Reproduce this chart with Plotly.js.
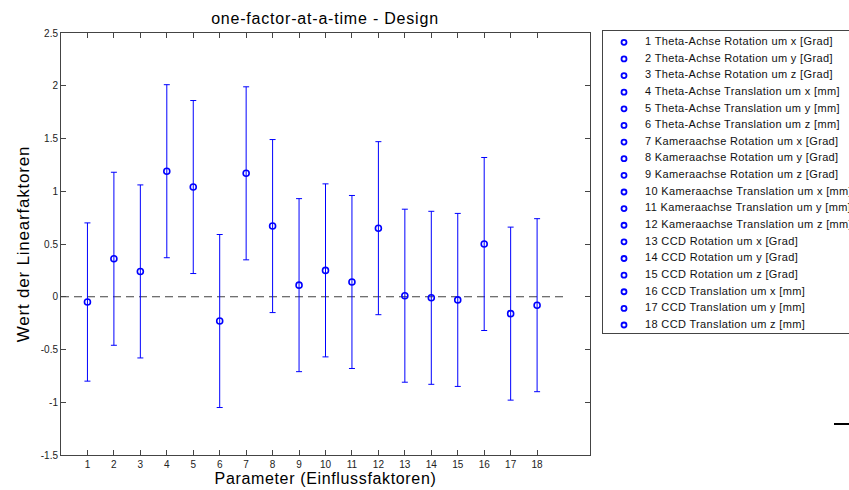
<!DOCTYPE html>
<html><head><meta charset="utf-8">
<script src="https://cdn.plot.ly/plotly-3.0.1.min.js"></script>
<style>
html,body{margin:0;padding:0;background:#fff;}
#chart{width:849px;height:490px;}
.gtitle{letter-spacing:0.8px !important;}
.xtitle{letter-spacing:0.65px !important;}
.ytitle{letter-spacing:0.8px !important;}
.textpoint text{letter-spacing:0.35px !important;}
</style>
</head><body><div id="chart"></div>
<script>
const params = [1,2,3,4,5,6,7,8,9,10,11,12,13,14,15,16,17,18];
const values = [-0.05,0.36,0.24,1.19,1.04,-0.23,1.17,0.67,0.11,0.25,0.14,0.65,0.01,-0.01,-0.03,0.50,-0.16,-0.08];
const errors = [0.75,0.82,0.82,0.82,0.82,0.82,0.82,0.82,0.82,0.82,0.82,0.82,0.82,0.82,0.82,0.82,0.82,0.82];
const legendLabels = [
  "1 Theta-Achse Rotation um x [Grad]",
  "2 Theta-Achse Rotation um y [Grad]",
  "3 Theta-Achse Rotation um z [Grad]",
  "4 Theta-Achse Translation um x [mm]",
  "5 Theta-Achse Translation um y [mm]",
  "6 Theta-Achse Translation um z [mm]",
  "7 Kameraachse Rotation um x [Grad]",
  "8 Kameraachse Rotation um y [Grad]",
  "9 Kameraachse Rotation um z [Grad]",
  "10 Kameraachse Translation um x [mm]",
  "11 Kameraachse Translation um y [mm]",
  "12 Kameraachse Translation um z [mm]",
  "13 CCD Rotation um x [Grad]",
  "14 CCD Rotation um y [Grad]",
  "15 CCD Rotation um z [Grad]",
  "16 CCD Translation um x [mm]",
  "17 CCD Translation um y [mm]",
  "18 CCD Translation um z [mm]"
];
const yTickVals = [-1.5,-1,-0.5,0,0.5,1,1.5,2,2.5];
const yTickText = ["-1.5","-1","-0.5","0","0.5","1","1.5","2","2.5"];
const refLineX = [0,19];
const refLineY = [0,0];

const FONT = "Liberation Sans, Arial, Helvetica, sans-serif";
const BLUE = "#0000ff";
const AX = "#444444";

const traces = [
  {
    x: refLineX, y: refLineY, mode: "lines", xaxis: "x", yaxis: "y",
    line: {color: "#404040", width: 1, dash: "8px,5px"}, hoverinfo: "skip", showlegend: false
  },
  {
    x: params, y: values, mode: "markers", xaxis: "x", yaxis: "y",
    marker: {symbol: "circle-open", size: 6, color: BLUE, line: {color: BLUE, width: 1.6}},
    error_y: {type: "data", array: errors, symmetric: true, visible: true, color: BLUE, thickness: 1, width: 3},
    showlegend: false
  },
  {
    x: params.map(() => 21), y: params, mode: "markers", xaxis: "x2", yaxis: "y2",
    marker: {symbol: "circle-open", size: 5, color: BLUE, line: {color: BLUE, width: 1.8}},
    hoverinfo: "skip", showlegend: false, cliponaxis: false
  },
  {
    x: params.map(() => 42), y: params, mode: "text", xaxis: "x2", yaxis: "y2",
    text: legendLabels, textposition: "middle right",
    textfont: {family: FONT, size: 11, color: "#111"},
    hoverinfo: "skip", showlegend: false, cliponaxis: false
  }
];

const layout = {
  width: 849, height: 490,
  margin: {l: 61, r: 0, t: 31, b: 35, autoexpand: false},
  paper_bgcolor: "#fff", plot_bgcolor: "#fff",
  font: {family: FONT, size: 10, color: "#222"},
  showlegend: false,
  title: {text: "one-factor-at-a-time - Design", font: {family: FONT, size: 16, color: "#000"},
          xref: "container", x: 325/849, xanchor: "center", yref: "container", y: 1 - 18/490, yanchor: "middle"},
  xaxis: {
    domain: [0, 529/788], range: [0, 20], tickvals: params, ticktext: params.map(String),
    ticks: "inside", ticklen: 5, tickcolor: AX, showline: true, linecolor: AX, linewidth: 1, mirror: "ticks",
    showgrid: false, zeroline: false, tickfont: {family: FONT, size: 10, color: "#222"},
    title: {text: "Parameter (Einflussfaktoren)", font: {family: FONT, size: 16, color: "#000"}, standoff: 1},
    anchor: "y"
  },
  yaxis: {
    domain: [0, 422/424], range: [-1.5, 2.5], tickvals: yTickVals, ticktext: yTickText,
    ticks: "inside", ticklen: 5, tickcolor: AX, showline: true, linecolor: AX, linewidth: 1, mirror: "ticks",
    showgrid: false, zeroline: false, tickfont: {family: FONT, size: 10, color: "#222"},
    title: {text: "Wert der Linearfaktoren\u00a0\u00a0", font: {family: FONT, size: 17, color: "#000"}, standoff: 6},
    anchor: "x"
  },
  xaxis2: {
    domain: [542/788, 1], range: [0, 246], anchor: "y2",
    showline: true, linecolor: AX, linewidth: 1, mirror: true,
    showticklabels: false, ticks: "", showgrid: false, zeroline: false, fixedrange: true
  },
  yaxis2: {
    domain: [122/424, 1], range: [18.48, 0.32], anchor: "x2",
    showline: true, linecolor: AX, linewidth: 1, mirror: false,
    showticklabels: false, ticks: "", showgrid: false, zeroline: false, fixedrange: true
  },
  shapes: [
    {type: "line", xref: "paper", yref: "paper", x0: 773/788, x1: 1, y0: 31/424, y1: 31/424,
     line: {color: "#000", width: 2}}
  ]
};

Plotly.newPlot("chart", traces, layout, {displayModeBar: false, staticPlot: true});
</script>
</body></html>
